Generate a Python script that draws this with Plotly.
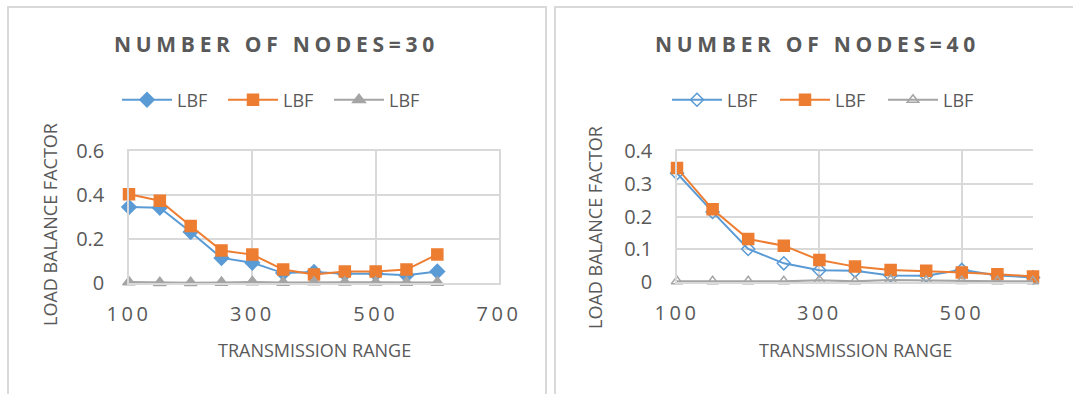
import plotly.graph_objects as go

# ---------------- data ----------------
x_range_vals = [100, 150, 200, 250, 300, 350, 400, 450, 500, 550, 600]

lbf30_blue = [0.345, 0.342, 0.232, 0.114, 0.092, 0.045, 0.050, 0.042, 0.042, 0.035, 0.052]
lbf30_orange = [0.403, 0.374, 0.259, 0.148, 0.129, 0.061, 0.039, 0.052, 0.052, 0.061, 0.130]
lbf30_gray = [0.004, 0.001, 0.001, 0.002, 0.005, 0.002, 0.004, 0.003, 0.003, 0.002, 0.002]

lbf40_blue = [0.332, 0.214, 0.101, 0.057, 0.036, 0.034, 0.020, 0.019, 0.037, 0.020, 0.014]
lbf40_orange = [0.348, 0.222, 0.131, 0.111, 0.067, 0.047, 0.037, 0.034, 0.029, 0.024, 0.017]
lbf40_gray = [0.002, 0.002, 0.002, 0.002, 0.005, 0.002, 0.006, 0.004, 0.003, 0.002, 0.002]

series_name = "LBF"
title30 = "NUMBER OF NODES=30"
title40 = "NUMBER OF NODES=40"
x_title = "TRANSMISSION RANGE"
y_title = "LOAD BALANCE FACTOR"

x30_ticks = [100, 300, 500, 700]
x40_ticks = [100, 300, 500]
y30_ticks = [0, 0.2, 0.4, 0.6]
y30_labels = ["0", "0.2", "0.4", "0.6"]
y40_ticks = [0, 0.1, 0.2, 0.3, 0.4]
y40_labels = ["0", "0.1", "0.2", "0.3", "0.4"]

# ---------------- style ----------------
W, H = 1073, 394
BLUE, ORANGE, GRAY = "#5B9BD5", "#ED7D31", "#A5A5A5"
GRID = "#D9D9D9"
TXT = "#595959"
FONT = "Open Sans"


def px_x(v):
    return v / W


def px_y(v):
    return 1 - v / H


def spaced(t, sp):
    return f'<span style="letter-spacing:{sp}px">{t}</span>'


fig = go.Figure()


def add_series(xa, ya, leg, y, color, symbol, size):
    fig.add_trace(go.Scatter(
        x=x_range_vals, y=y, name=series_name, mode="lines+markers",
        xaxis=xa, yaxis=ya, legend=leg,
        line=dict(color=color, width=2),
        marker=dict(color=color, symbol=symbol, size=size,
                    line=dict(color=color, width=1.5)),
        cliponaxis=False, hoverinfo="x+y",
    ))


add_series("x", "y", "legend", lbf30_blue, BLUE, "diamond", 11)
add_series("x", "y", "legend", lbf30_orange, ORANGE, "square", 11)
add_series("x", "y", "legend", lbf30_gray, GRAY, "triangle-up", 11)

add_series("x2", "y2", "legend2", lbf40_blue, BLUE, "diamond-open", 10)
add_series("x2", "y2", "legend2", lbf40_orange, ORANGE, "square", 11)
add_series("x2", "y2", "legend2", lbf40_gray, GRAY, "triangle-up-open", 10)

ax_common = dict(showgrid=True, gridcolor=GRID, gridwidth=1.5, zeroline=False,
                 ticks="", automargin=False, linecolor=GRID, linewidth=1.5,
                 tickfont=dict(family=FONT, size=20, color=TXT),
                 fixedrange=True)

fig.update_layout(
    template="none",
    width=W, height=H, autosize=False,
    margin=dict(l=0, r=0, t=0, b=0, pad=0),
    paper_bgcolor="white", plot_bgcolor="white",
    font=dict(family=FONT, color=TXT),
    showlegend=True,
    xaxis=dict(domain=[px_x(129), px_x(499)], range=[100, 700], anchor="y",
               tickmode="array", tickvals=x30_ticks,
               ticktext=[spaced(str(t), 3.5) for t in x30_ticks],
               ticklabelstandoff=12, showline=True, mirror=True, **ax_common),
    yaxis=dict(domain=[px_y(283), px_y(151)], range=[0, 0.6], anchor="x",
               tickmode="array", tickvals=y30_ticks, ticktext=y30_labels,
               ticklabelstandoff=19, showline=True, mirror=True, **ax_common),
    xaxis2=dict(domain=[px_x(677), px_x(1033)], range=[100, 600], anchor="y2",
                tickmode="array", tickvals=x40_ticks,
                ticktext=[spaced(str(t), 3.5) for t in x40_ticks],
                ticklabelstandoff=12, showline=True, mirror=True, **ax_common),
    yaxis2=dict(domain=[px_y(282), px_y(151)], range=[0, 0.4], anchor="x2",
                tickmode="array", tickvals=y40_ticks, ticktext=y40_labels,
                ticklabelstandoff=19, showline=True, mirror=False, **ax_common),
    legend=dict(orientation="h", x=px_x(276), y=px_y(100), xanchor="center", yanchor="middle",
                font=dict(family=FONT, size=18, color=TXT), bgcolor="rgba(0,0,0,0)",
                itemwidth=50, entrywidth=41, itemclick=False, itemdoubleclick=False),
    legend2=dict(orientation="h", x=px_x(829), y=px_y(100), xanchor="center", yanchor="middle",
                 font=dict(family=FONT, size=18, color=TXT), bgcolor="rgba(0,0,0,0)",
                 itemwidth=50, entrywidth=43, itemclick=False, itemdoubleclick=False),
)

# panel borders
fig.add_shape(type="rect", xref="paper", yref="paper", x0=px_x(8), x1=px_x(546),
              y0=px_y(420), y1=px_y(7), line=dict(color=GRID, width=2), layer="below")
fig.add_shape(type="rect", xref="paper", yref="paper", x0=px_x(555), x1=px_x(1100),
              y0=px_y(420), y1=px_y(7), line=dict(color=GRID, width=2), layer="below")

ann = []
# chart titles
ann.append(dict(text="<b>" + spaced(title30, 4.7) + "</b>", x=px_x(276), y=px_y(44),
                font=dict(family=FONT, size=21, color=TXT)))
ann.append(dict(text="<b>" + spaced(title40, 4.7) + "</b>", x=px_x(817), y=px_y(44),
                font=dict(family=FONT, size=21, color=TXT)))
# axis titles
ann.append(dict(text=x_title, x=px_x(314), y=px_y(350), font=dict(family=FONT, size=18, color=TXT)))
ann.append(dict(text=x_title, x=px_x(855), y=px_y(350), font=dict(family=FONT, size=18, color=TXT)))
ann.append(dict(text=y_title, x=px_x(50), y=px_y(225), textangle=-90,
                font=dict(family=FONT, size=18, color=TXT)))
ann.append(dict(text=y_title, x=px_x(595), y=px_y(228), textangle=-90,
                font=dict(family=FONT, size=18, color=TXT)))
for a in ann:
    a.update(xref="paper", yref="paper", showarrow=False, xanchor="center", yanchor="middle")
fig.update_layout(annotations=ann)

fig.write_html("out.html", config={"displayModeBar": False},
               post_script="document.body.style.margin='0px';document.body.style.overflow='hidden';")
